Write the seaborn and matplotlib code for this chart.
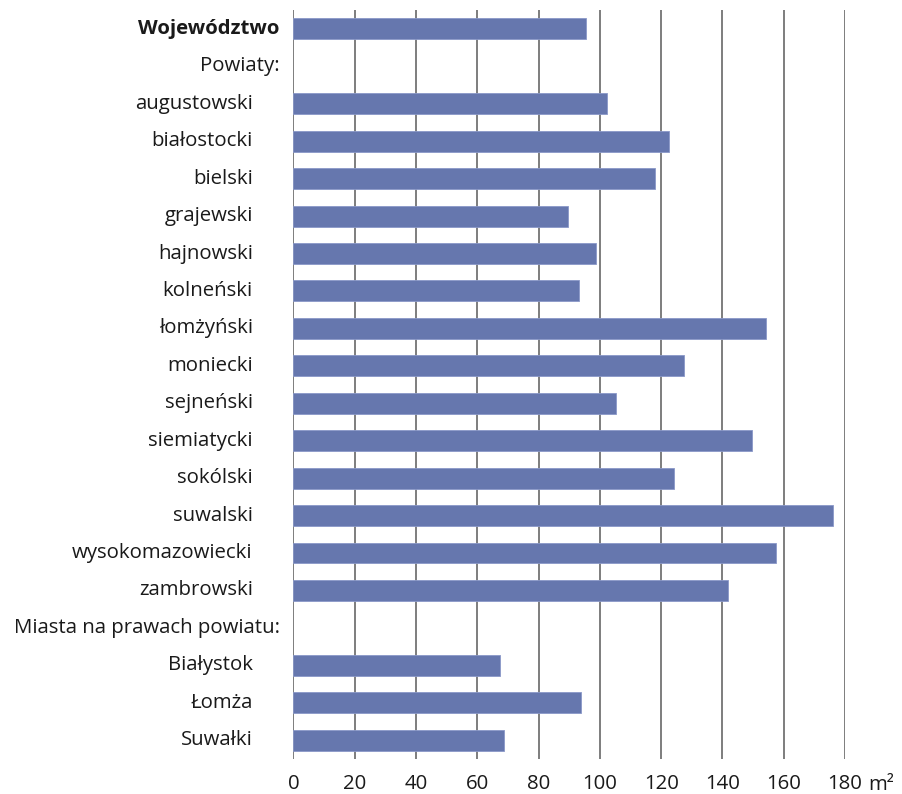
import numpy as np
import pandas as pd
import matplotlib
matplotlib.use('Agg')
import matplotlib.pyplot as plt
import seaborn as sns

# Data (m2)
labels = ['Województwo', 'Powiaty:', 'augustowski', 'białostocki', 'bielski',
          'grajewski', 'hajnowski', 'kolneński', 'łomżyński', 'moniecki',
          'sejneński', 'siemiatycki', 'sokólski', 'suwalski', 'wysokomazowiecki',
          'zambrowski', 'Miasta na prawach powiatu:', 'Białystok', 'Łomża', 'Suwałki']
values = [95.6, np.nan, 102.2, 122.6, 118.0,
          89.5, 98.8, 93.3, 154.3, 127.3,
          105.1, 149.7, 124.2, 176.2, 157.6,
          141.9, np.nan, 67.4, 93.8, 68.6]
headers = ['Województwo', 'Powiaty:', 'Miasta na prawach powiatu:']
xticks = [0, 20, 40, 60, 80, 100, 120, 140, 160, 180]

sns.set_style('white')
plt.rcParams['font.family'] = ['Open Sans', 'DejaVu Sans']

df = pd.DataFrame({'label': labels, 'value': values})

fig = plt.figure(figsize=(9.03, 7.94), dpi=100)
ax = fig.add_axes([0.325, 0.0442, 0.6108, 0.943])

sns.barplot(data=df, x='value', y='label', order=labels, orient='h',
            color='#6677ae', saturation=1, width=0.56,
            edgecolor='#8a98c8', linewidth=0.6, ax=ax, zorder=3)

ax.set_xlim(0, 180)
ax.set_ylim(len(labels) - 0.5, -0.5)
ax.set_xticks(xticks)
ax.set_xticklabels([str(t) for t in xticks], fontsize=14.7, color='#1a1a1a')
ax.tick_params(axis='x', length=0, pad=11)
ax.set_yticks(range(len(labels)))
ax.set_yticklabels([])
ax.tick_params(axis='y', length=0)
ax.set_xlabel('')
ax.set_ylabel('')
for s in ax.spines.values():
    s.set_visible(False)

for t in xticks:
    ax.axvline(t, color='#5a5a5a', linewidth=1.1, zorder=1)

ytr = ax.get_yaxis_transform()
for i, lab in enumerate(labels):
    if lab in headers:
        xpos = -0.025
    else:
        xpos = -0.074
    ax.text(xpos, i, lab, transform=ytr, ha='right', va='center', fontsize=14.7,
            color='#1a1a1a', fontweight='bold' if lab == 'Województwo' else 'normal')

ax.text(1.066, -0.021, 'm²', transform=ax.transAxes, ha='center', va='top',
        fontsize=14.7, color='#1a1a1a')

fig.savefig('out.png', dpi=100)
